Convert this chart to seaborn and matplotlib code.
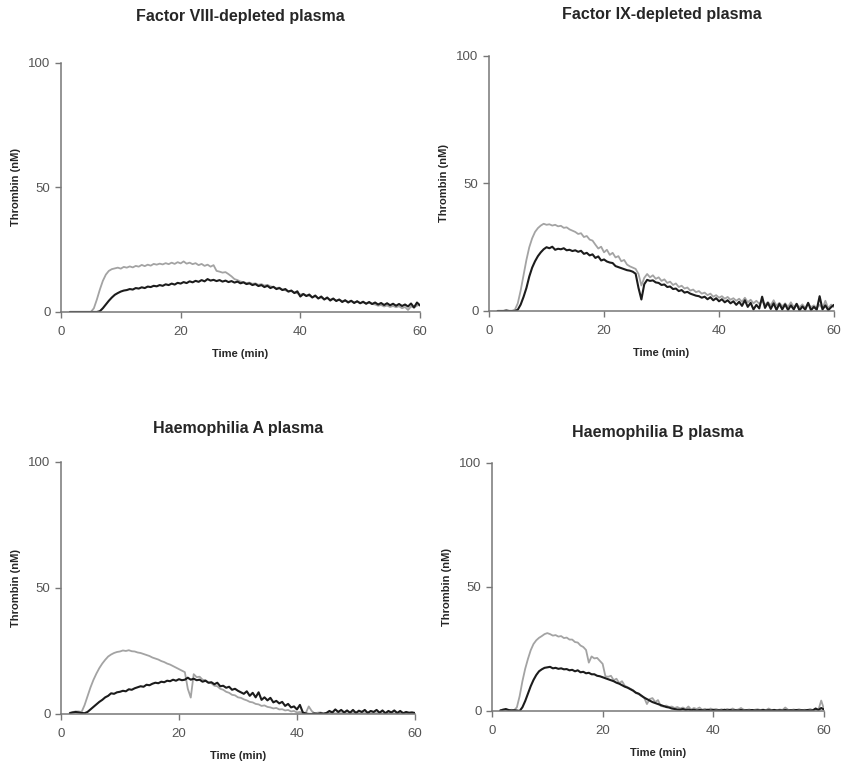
import numpy as np
import pandas as pd
import seaborn as sns
import matplotlib
matplotlib.use("Agg")
import matplotlib.pyplot as plt

# sampling times (min), readings every 0.5 min from 1.5 to 60
time_min = np.arange(1.5, 60.01, 0.5)

titles = ["Factor VIII-depleted plasma", "Factor IX-depleted plasma",
          "Haemophilia A plasma", "Haemophilia B plasma"]

# thrombin (nM), grey trace and black trace per panel
f8_grey = [0, 0, 0, 0, 0, 0, 0, 0, 1.5, 5,
           9, 12.5, 15, 16.5, 17.2, 17.5, 17.8, 17.4, 18.1, 17.8,
           18.3, 17.9, 18.5, 18.2, 18.9, 18.4, 19.0, 18.6, 19.3, 19.0,
           19.4, 19.1, 19.6, 19.2, 19.8, 19.3, 20.0, 19.5, 20.3, 19.4,
           19.8, 19.2, 19.6, 18.8, 19.3, 18.5, 19.0, 18.2, 18.8, 16.5,
           16.2, 15.8, 16.0, 15.2, 14.3, 13.2, 12.8, 12.2, 12.0, 11.6,
           11.8, 11.3, 11.5, 10.9, 11.2, 10.6, 10.9, 10.3, 10.0, 9.6,
           9.8, 9.0, 8.7, 8.2, 8.4, 7.8, 7.5, 7.0, 7.3, 6.6,
           6.5, 6.0, 6.3, 5.6, 5.8, 5.2, 5.5, 5.0, 5.2, 4.6,
           4.9, 4.4, 4.6, 4.1, 4.4, 3.9, 4.2, 3.6, 3.9, 3.4,
           3.7, 3.2, 3.0, 2.5, 2.8, 2.2, 2.6, 2.0, 2.4, 1.9,
           2.3, 1.5, 2.0, 0.8, 2.2, 1.8, 2.5, 3.0]
f8_black = [0, 0, 0, 0, 0, 0, 0, 0, 0, 0,
            0.3, 1.5, 3.0, 4.5, 5.8, 6.9, 7.6, 8.2, 8.6, 8.8,
            9.2, 9.0, 9.6, 9.4, 9.9, 9.6, 10.2, 10.0, 10.5, 10.3,
            10.8, 10.5, 11.1, 10.8, 11.4, 11.0, 11.7, 11.4, 12.0, 11.6,
            12.3, 11.9, 12.5, 12.1, 12.8, 12.3, 13.2, 12.6, 12.9, 12.4,
            12.8, 12.2, 12.6, 12.0, 12.4, 11.8, 12.2, 11.5, 11.9, 11.2,
            11.5, 10.8, 11.2, 10.4, 10.8, 10.0, 10.5, 9.6, 10.1, 9.2,
            9.6, 8.8, 9.2, 8.2, 8.6, 7.6, 8.3, 6.2, 7.2, 6.4,
            7.0, 5.8, 6.6, 5.4, 6.2, 5.0, 5.8, 4.6, 5.4, 4.4,
            5.0, 4.0, 4.7, 3.8, 4.5, 3.6, 4.3, 3.5, 4.1, 3.3,
            4.0, 3.2, 3.8, 3.0, 3.6, 2.8, 3.5, 2.7, 3.3, 2.5,
            3.2, 2.4, 3.0, 2.2, 3.4, 1.8, 3.8, 2.6]

f9_grey = [0, 0, 0, 0, 0, 0, 0.5, 3, 8, 14,
           20, 25, 28.5, 31, 32.5, 33.5, 34.2, 33.8, 34.0, 33.5,
           33.8, 33.2, 33.4, 32.6, 32.8, 32.0, 31.5, 31.0, 30.2, 30.5,
           29.0, 29.4, 28.0, 27.6, 26.0, 24.5, 25.2, 23.0, 24.0, 22.0,
           22.8, 21.0, 21.5, 19.5, 20.0, 18.2, 17.5, 17.0, 16.5, 14.5,
           10.0, 13.0, 14.5, 13.2, 14.0, 12.6, 13.2, 11.8, 12.4, 11.0,
           11.5, 10.2, 10.8, 9.4, 9.9, 8.8, 9.2, 8.0, 8.4, 7.4,
           7.8, 6.8, 7.2, 6.2, 6.8, 5.6, 6.2, 5.2, 5.8, 4.8,
           5.5, 4.4, 5.0, 4.0, 4.8, 3.6, 5.2, 3.4, 4.4, 3.0,
           4.0, 2.8, 3.8, 2.4, 3.5, 2.2, 4.2, 2.0, 3.2, 1.8,
           3.0, 1.6, 3.4, 1.5, 2.8, 1.4, 2.6, 1.2, 3.0, 1.5,
           2.2, 1.2, 2.4, 1.0, 4.0, 1.0, 2.5, 1.5]
f9_black = [0, 0, 0, 0.2, 0, 0, 0, 0.5, 2.5, 5.5,
            9, 13.5, 17, 19.5, 21.5, 23, 24.2, 25.0, 24.6, 25.2,
            24.0, 24.4, 24.2, 24.6, 23.8, 24.0, 23.5, 23.8, 23.2, 23.6,
            22.4, 22.8, 21.8, 22.2, 20.8, 21.4, 19.8, 20.2, 19.4, 19.0,
            18.8, 17.6, 17.2, 16.8, 16.4, 16.0, 15.8, 15.4, 14.6, 9.0,
            4.5, 10.5, 12.2, 11.8, 12.0, 11.2, 11.0, 10.2, 10.4, 9.4,
            9.6, 8.6, 8.8, 7.8, 8.2, 7.2, 7.5, 6.8, 6.4, 6.0,
            5.8, 5.2, 5.6, 4.6, 5.4, 4.2, 5.0, 3.8, 4.6, 3.4,
            4.2, 3.0, 3.8, 2.4, 3.6, 2.0, 4.2, 1.6, 3.2, 0.6,
            2.4, 1.0, 5.6, 1.2, 3.2, 0.8, 3.0, 0.4, 2.8, 0.6,
            2.6, 0.4, 2.2, 0.6, 2.8, 0.2, 1.8, 0.5, 3.2, 0.3,
            1.6, 0.5, 5.8, 0.6, 2.2, 0.3, 1.5, 2.4]

ha_grey = [0.5, 0.8, 1.0, 1.0, 0.8, 3.5, 7, 10.5, 13.5, 16,
           18.2, 20, 21.5, 22.8, 23.6, 24.2, 24.6, 24.8, 25.2, 25.0,
           25.3, 24.9, 24.8, 24.4, 24.2, 23.8, 23.4, 23.0, 22.4, 22.0,
           21.6, 21.0, 20.6, 20.0, 19.6, 19.0, 18.4, 17.8, 17.2, 16.6,
           10.0, 6.5, 15.8, 14.6, 14.8, 13.6, 13.4, 12.4, 12.2, 11.2,
           11.0, 10.0, 9.6, 8.8, 8.4, 7.6, 7.4, 6.6, 6.4, 5.8,
           5.4, 4.8, 4.6, 4.0, 3.8, 3.2, 3.4, 2.8, 2.6, 2.2,
           2.4, 1.8, 1.9, 1.4, 1.6, 1.0, 1.2, 0.6, 0.8, 0.3,
           0.4, 3.0, 1.2, 0.2, 0.5, 0.6, 0.2, 0.4, 0.3, 0.5,
           0.2, 0.4, 0.3, 0.5, 0.2, 0.4, 0.3, 0.6, 0.2, 0.4,
           0.3, 0.5, 0.2, 0.4, 0.3, 0.5, 0.2, 0.4, 0.3, 0.5,
           0.2, 0.4, 0.3, 0.5, 0.2, 0.4, 0.6, 0.3]
ha_black = [0.3, 0.6, 0.8, 0.6, 0.4, 0.3, 0.8, 1.8, 2.8, 3.8,
            4.8, 5.6, 6.6, 7.2, 8.2, 8.0, 8.6, 8.8, 9.2, 9.0,
            9.8, 9.6, 10.2, 10.6, 11.0, 10.8, 11.6, 11.4, 12.0, 12.4,
            12.2, 12.8, 12.6, 13.2, 13.0, 13.6, 13.2, 13.8, 13.4, 13.6,
            14.4, 13.6, 14.0, 13.4, 13.6, 12.8, 13.2, 12.4, 12.6, 11.8,
            12.4, 11.0, 11.2, 10.4, 10.8, 9.6, 10.0, 9.2, 8.6, 8.0,
            9.0, 7.2, 8.4, 6.6, 8.6, 5.6, 6.6, 5.4, 6.4, 4.6,
            5.2, 4.2, 4.8, 3.2, 4.0, 2.6, 3.0, 1.8, 3.6, 0.6,
            0.2, 0, 0, 0.2, 0, 0.3, 0.1, 0.4, 1.2, 0.6,
            1.8, 0.8, 1.6, 0.6, 1.4, 0.5, 1.6, 0.4, 1.3, 0.8,
            1.6, 0.4, 1.2, 0.8, 1.6, 0.5, 1.4, 0.3, 1.2, 0.6,
            1.4, 0.4, 1.2, 0.3, 0.8, 0.5, 0.6, 0.4]

hb_grey = [0.3, 0.6, 0.4, 0.2, 0.5, 0.3, 1.5, 6, 12, 17,
           21, 24.5, 27, 28.5, 29.5, 30.2, 31.0, 31.4, 31.0, 30.4,
           30.6, 30.0, 30.2, 29.4, 29.6, 28.8, 28.8, 27.8, 27.6, 26.4,
           25.8, 24.6, 19.5, 22.0, 21.2, 21.4, 20.2, 19.0, 14.0, 13.8,
           14.2, 12.4, 13.0, 11.2, 12.0, 10.2, 9.6, 9.0, 8.4, 7.2,
           6.8, 6.0, 5.4, 2.8, 4.8, 5.2, 3.6, 4.4, 2.0, 1.8,
           2.2, 1.6, 1.8, 1.2, 1.6, 1.0, 1.4, 0.8, 1.8, 0.6,
           1.2, 0.8, 1.4, 0.5, 0.9, 0.4, 1.0, 0.6, 0.8, 0.4,
           0.7, 0.3, 0.8, 0.5, 1.0, 0.4, 0.6, 1.2, 0.5, 0.4,
           0.6, 0.3, 0.5, 0.7, 0.4, 0.6, 0.3, 1.0, 0.4, 0.5,
           0.3, 0.6, 0.4, 1.4, 0.5, 0.3, 0.6, 0.4, 0.7, 0.3,
           0.5, 0.4, 0.8, 0.3, 0.6, 0.5, 4.2, 0.8]
hb_black = [0.2, 0.5, 0.8, 0.4, 0.2, 0.3, 0.2, 0, 1.5, 4,
            7, 10, 12.5, 14.5, 16, 16.8, 17.4, 17.6, 17.8, 17.2,
            17.4, 17.0, 17.2, 16.8, 16.9, 16.4, 16.6, 16.0, 16.4, 15.6,
            15.8, 15.2, 15.4, 14.8, 14.8, 14.2, 14.0, 13.6, 13.2, 12.8,
            12.4, 12.0, 11.4, 11.0, 10.4, 9.8, 9.4, 8.8, 8.2, 7.4,
            7.0, 6.2, 5.4, 4.8, 4.2, 3.6, 3.2, 2.8, 2.4, 2.0,
            1.6, 1.4, 1.0, 0.8, 0.6, 0.5, 0.8, 0.4, 0.6, 0.3,
            0.5, 0.2, 0.4, 0.3, 0.2, 0.5, 0.2, 0.4, 0.2, 0.3,
            0.2, 0.5, 0.2, 0.4, 0.2, 0.3, 0.2, 0.4, 0.2, 0.3,
            0.2, 0.4, 0.2, 0.3, 0.2, 0.4, 0.2, 0.3, 0.2, 0.4,
            0.2, 0.3, 0.2, 0.4, 0.2, 0.3, 0.2, 0.4, 0.2, 0.3,
            0.2, 0.4, 0.2, 0.3, 1.0, 0.4, 1.2, 0.6]

panels = [(f8_grey, f8_black), (f9_grey, f9_black),
          (ha_grey, ha_black), (hb_grey, hb_black)]

# axes boxes in figure fraction [left, bottom, width, height]
boxes = [[0.0724, 0.5922, 0.4264, 0.3255],
         [0.5808, 0.5935, 0.4097, 0.3333],
         [0.0724, 0.0667, 0.4204, 0.3294],
         [0.5843, 0.0706, 0.3943, 0.3242]]
title_y = [16, 15, 428, 432]

sns.set_style("ticks")
plt.rcParams['font.family'] = ['Liberation Sans', 'DejaVu Sans']

fig = plt.figure(figsize=(8.42, 7.65), dpi=100)

for i, (grey, black) in enumerate(panels):
    ax = fig.add_axes(boxes[i])
    df = pd.DataFrame({"t": time_min, "grey": grey, "black": black})
    sns.lineplot(data=df, x="t", y="grey", ax=ax, color="#a3a3a3", linewidth=1.3)
    sns.lineplot(data=df, x="t", y="black", ax=ax, color="#1c1c1c", linewidth=1.5)
    ax.set_xlim(0, 60)
    ax.set_ylim(0, 100)
    ax.set_xticks([0, 20, 40, 60])
    ax.set_yticks([0, 50, 100])
    ax.tick_params(labelsize=9.5, labelcolor="#555555", color="#777777",
                   length=4, width=1)
    ax.tick_params(axis="x", pad=6)
    for s in ["top", "right"]:
        ax.spines[s].set_visible(False)
    for s in ["left", "bottom"]:
        ax.spines[s].set_color("#777777")
        ax.spines[s].set_linewidth(1.1)
    ax.set_xlabel("Time (min)", fontsize=8, fontweight="bold", labelpad=8)
    ax.set_ylabel("Thrombin (nM)", fontsize=8, fontweight="bold", labelpad=5)
    b = boxes[i]
    fig.text(b[0] + b[2] / 2, 1 - title_y[i] / 765, titles[i],
             ha="center", va="center", fontsize=11.5, fontweight="bold")

fig.savefig("out.png", dpi=100)
